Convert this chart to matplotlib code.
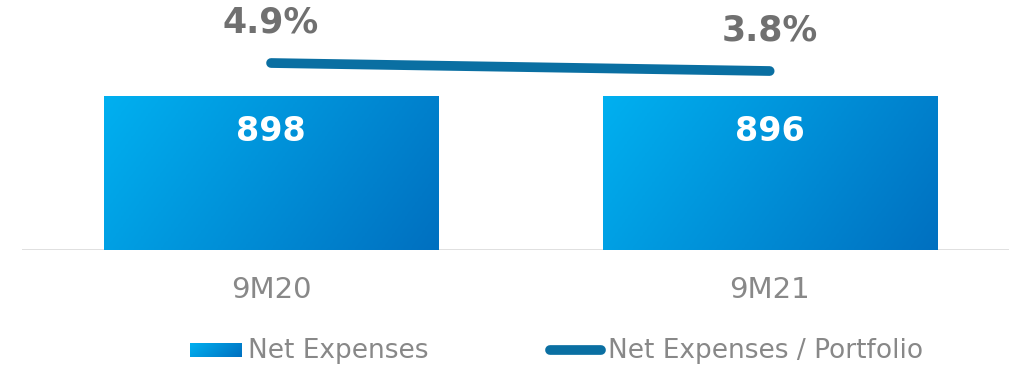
import numpy as np
import matplotlib
matplotlib.use("Agg")
import matplotlib.pyplot as plt
from matplotlib.colors import LinearSegmentedColormap
from matplotlib.patches import Rectangle

periods = ["9M20", "9M21"]
net_expenses = [898, 896]
expense_ratio = [4.9, 3.8]

plt.rcParams['font.family'] = ['DejaVu Sans']

blue_grad = LinearSegmentedColormap.from_list("blue_grad", ["#00b0f0", "#0070c0"])
line_color = "#0a6fa2"
grey = "#888888"


def gradient_fill(ax, x0, y0, w, h, zorder=2):
    # mostly left-to-right gradient, darkest at bottom-right
    gx, gy = np.meshgrid(np.linspace(0, 1, 200), np.linspace(0, 1, 100))
    grad = 0.75 * gx + 0.25 * gy
    im = ax.imshow(grad, cmap=blue_grad, extent=[x0, x0 + w, y0, y0 + h],
                   origin="upper", aspect="auto", zorder=zorder, vmin=0, vmax=1)
    clip = Rectangle((x0, y0), w, h, transform=ax.transData, facecolor="none", edgecolor="none")
    ax.add_patch(clip)
    im.set_clip_path(clip)
    return im


fig = plt.figure(figsize=(10.09, 3.65), dpi=100)
ax = fig.add_axes([22 / 1009, 115 / 365, 987 / 1009, 250 / 365])

x = np.arange(len(periods))
bar_w = 0.67
for xi, v in zip(x, net_expenses):
    gradient_fill(ax, xi - bar_w / 2, 0, bar_w, v)
    ax.annotate(f"{v}", (xi, v), xytext=(0, -25.5), textcoords="offset points",
                ha="center", va="center", color="white", fontsize=24, fontweight="bold")

ax.set_xlim(-0.4995, 1.480)
ax.set_ylim(0, 898 * 250 / 154)
ax.axhline(0, color="#dddddd", lw=2, zorder=1)

ax2 = ax.twinx()
ax2.plot(x, expense_ratio, color=line_color, lw=7, solid_capstyle="round", zorder=3)
ax2.set_ylim(-20.8, 13.56)
for xi, r in zip(x, expense_ratio):
    ax2.annotate(f"{r}%", (xi, r), xytext=(0, 29.5), textcoords="offset points",
                 ha="center", va="center", color="#707070", fontsize=25, fontweight="bold")

for a in (ax, ax2):
    a.set_xticks([])
    a.set_yticks([])
    for s in a.spines.values():
        s.set_visible(False)
    a.patch.set_visible(False)

# category labels under the bars
for xi, p in zip(x, periods):
    ax.annotate(p, (xi, 0), xytext=(0, -29), textcoords="offset points",
                ha="center", va="center", color=grey, fontsize=21)

# legend, drawn by hand so the patch keeps its gradient
leg_ax = fig.add_axes([190 / 1009, (365 - 357) / 365, 52 / 1009, 14 / 365])
leg_ax.set_xlim(0, 1)
leg_ax.set_ylim(0, 1)
gradient_fill(leg_ax, 0, 0, 1, 1)
leg_ax.axis("off")
fig.text(248 / 1009, (365 - 351) / 365, "Net Expenses", ha="left", va="center",
         color=grey, fontsize=19)
fig.add_artist(plt.Line2D([550 / 1009, 601 / 1009], [(365 - 350) / 365] * 2,
                          color=line_color, lw=7, solid_capstyle="round"))
fig.text(608 / 1009, (365 - 351) / 365, "Net Expenses / Portfolio", ha="left", va="center",
         color=grey, fontsize=19)

fig.savefig("out.png", dpi=100)
